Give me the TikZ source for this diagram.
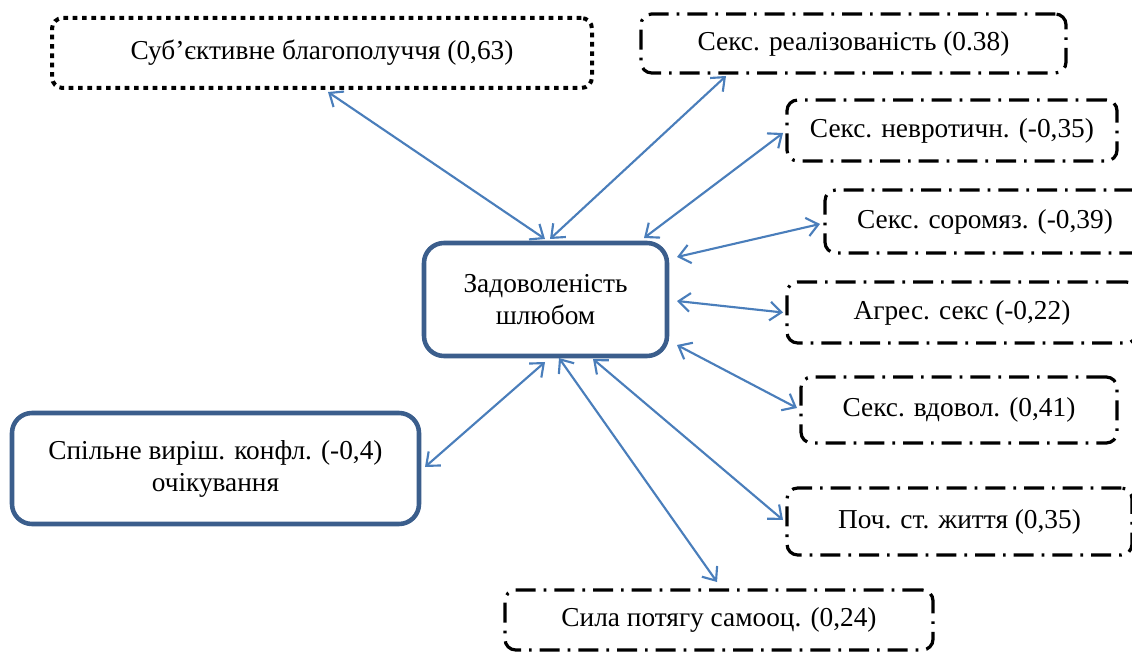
\documentclass[tikz,border=0pt]{standalone}
\usepackage{fontspec}
\setmainfont{Liberation Serif}
\usetikzlibrary{arrows.meta}
\definecolor{arrowblue}{HTML}{4A7EBB}
\definecolor{boxblue}{HTML}{3B5E8C}
\begin{document}
\begin{tikzpicture}[x=0.75pt, y=-0.75pt,
  font=\fontsize{20.5}{24}\selectfont,
  every node/.style={outer sep=0pt, inner sep=0pt, align=center},
  ddbox/.style={draw=black, line width=2.4pt, dash pattern=on 15pt off 6pt on 2pt off 6pt, rounded corners=8pt},
  dotbox/.style={draw=black, line width=3pt, dash pattern=on 3.5pt off 3.5pt, rounded corners=8pt},
  bluebox/.style={draw=boxblue, line width=3.4pt, rounded corners=15pt},
  link/.style={draw=arrowblue, line width=1.6pt, {Straight Barb[length=8.5pt,width=14pt]}-{Straight Barb[length=8.5pt,width=14pt]}}
]
\useasboundingbox (0,0) rectangle (1132,652);

\node[dotbox, minimum width=405pt, minimum height=52.5pt] (sub) at (322,53) {Суб’єктивне благополуччя (0,63)};
\node[ddbox, minimum width=318.75pt, minimum height=44.25pt] (real) at (853.5,43.5) {Секс. реалізованість (0.38)};
\node[ddbox, minimum width=247.5pt, minimum height=45.75pt] (nevr) at (952,130.5) {Секс. невротичн. (-0,35)};
\node[ddbox, minimum width=240pt, minimum height=47.25pt] (sorom) at (985,221.5) {Секс. соромяз. (-0,39)};
\node[ddbox, minimum width=262.5pt, minimum height=45.75pt] (agres) at (962,312.5) {Агрес. секс (-0,22)};
\node[ddbox, minimum width=237pt, minimum height=49.5pt] (vdov) at (959,410) {Секс. вдовол. (0,41)};
\node[ddbox, minimum width=258.75pt, minimum height=50.25pt] (poch) at (959.5,521.5) {Поч. ст. життя (0,35)};
\node[ddbox, minimum width=321pt, minimum height=45pt] (syla) at (719,620) {Сила потягу самооц. (0,24)};
\node[bluebox, minimum width=182.25pt, minimum height=84.75pt] (ctr) at (545.5,299.5) {Задоволеність\\шлюбом};
\node[bluebox, minimum width=305.25pt, minimum height=83.25pt] (spil) at (215.5,468.5) {Спільне виріш. конфл. (-0,4)\\очікування};

\draw[link] ([shift={(6,4)}]sub.south) -- ([shift={(-0.5,-4)}]ctr.north);
\draw[link] ([shift={(-127.5,3)}]real.south) -- ([shift={(4.5,-4)}]ctr.north);
\draw[link] ([shift={(-4,2.5)}]nevr.west) -- ([shift={(-23,-5)}]ctr.north east);
\draw[link] ([shift={(-5,2.5)}]sorom.west) -- ([shift={(10,14)}]ctr.north east);
\draw[link] ([shift={(-4,0)}]agres.west) -- ([shift={(10,1.5)}]ctr.east);
\draw[link] ([shift={(-4,-2)}]vdov.west) -- ([shift={(10,-11)}]ctr.south east);
\draw[link] ([shift={(-4,-1.5)}]poch.west) -- ([shift={(47.5,3)}]ctr.south);
\draw[link] ([shift={(-2,-8)}]syla.north) -- ([shift={(13.5,2)}]ctr.south);
\draw[link] ([shift={(6,-1.5)}]spil.east) -- ([shift={(-0.5,6)}]ctr.south);
\end{tikzpicture}
\end{document}
